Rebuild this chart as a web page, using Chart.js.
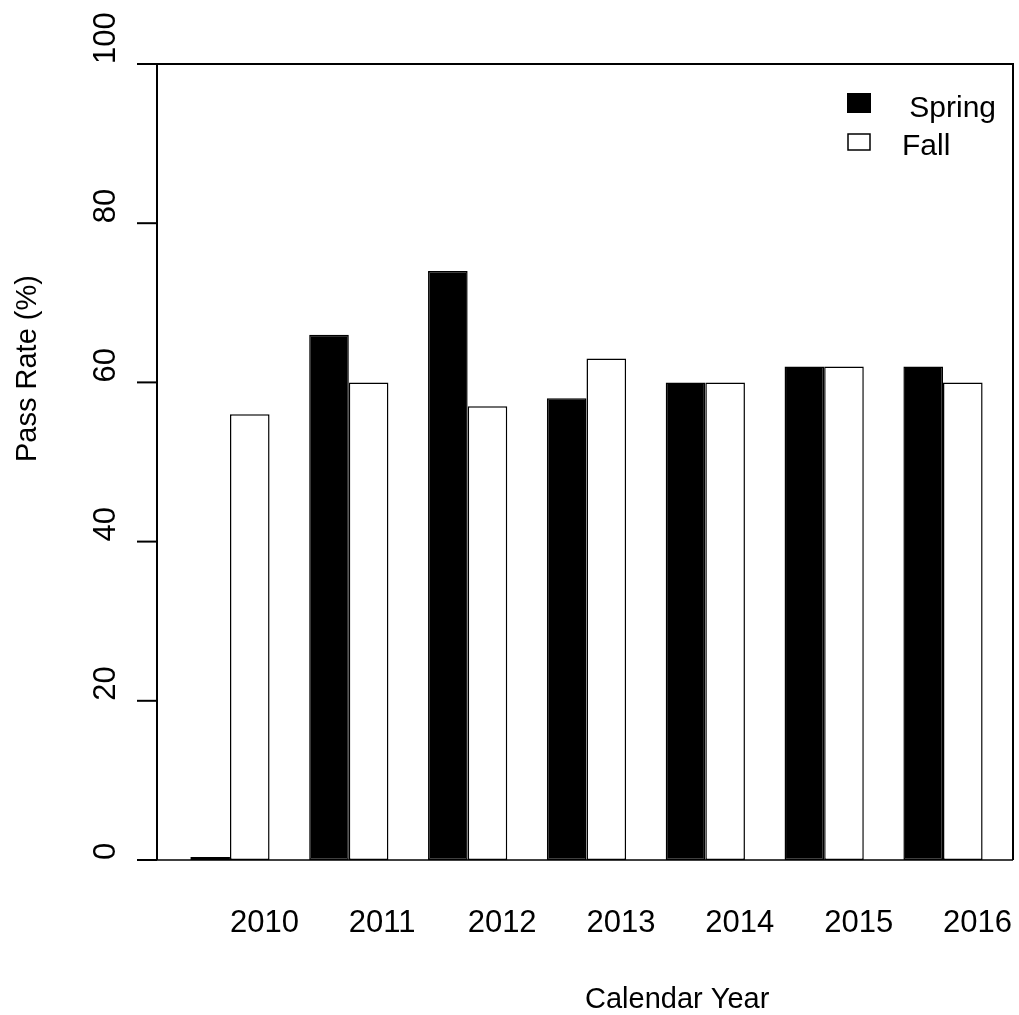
<!DOCTYPE html>
<html>
<head>
<meta charset="utf-8">
<title>Pass Rate by Calendar Year</title>
<script src="https://cdn.jsdelivr.net/npm/chart.js@4"></script>
<style>
  body { margin: 0; background: #fff; }
  #wrap { width: 1019px; height: 1015px; }
</style>
</head>
<body>
<div id="wrap"><canvas id="passChart"></canvas></div>
<script>
// pass rates per calendar year, spring and fall sittings
const years = [2010, 2011, 2012, 2013, 2014, 2015, 2016];
const springRates = [0, 66, 74, 58, 60, 62, 62];
const fallRates = [56, 60, 57, 63, 60, 62, 60];
const yTicks = [0, 20, 40, 60, 80, 100];
const seriesNames = [" Spring", "Fall"];

const FONT = "'Liberation Sans', Arial, sans-serif";

function line(ctx, x1, y1, x2, y2) {
  ctx.beginPath();
  ctx.moveTo(x1, y1);
  ctx.lineTo(x2, y2);
  ctx.stroke();
}

function rotatedText(ctx, text, x, y) {
  ctx.save();
  ctx.translate(x, y);
  ctx.rotate(-Math.PI / 2);
  ctx.fillText(text, 0, 0);
  ctx.restore();
}

// box, ticks, labels and legend drawn on top of the bars
const frame = {
  id: "frame",
  afterDatasetsDraw(chart) {
    const ctx = chart.ctx;
    const { left, right, top, bottom } = chart.chartArea;
    const xs = chart.scales.x;
    const ys = chart.scales.y;
    ctx.save();
    ctx.strokeStyle = "#000";
    ctx.fillStyle = "#000";

    ctx.lineWidth = 2;
    ctx.beginPath();
    ctx.moveTo(left, bottom);
    ctx.lineTo(left, top);
    ctx.lineTo(right, top);
    ctx.lineTo(right, bottom);
    ctx.stroke();
    ctx.lineWidth = 1.5;
    line(ctx, left - 20, bottom, right, bottom);

    ctx.lineWidth = 2;
    yTicks.forEach((v) => {
      const y = ys.getPixelForValue(v);
      line(ctx, left - 20, y, left, y);
    });

    ctx.font = "31px " + FONT;
    ctx.textAlign = "left";
    ctx.textBaseline = "alphabetic";
    yTicks.forEach((v) => {
      rotatedText(ctx, String(v), 115, ys.getPixelForValue(v));
    });
    years.forEach((yr) => {
      ctx.fillText(String(yr), xs.getPixelForValue(yr), 932);
    });

    ctx.font = "29px " + FONT;
    ctx.fillText("Calendar Year", (left + right) / 2, 1008);
    rotatedText(ctx, "Pass Rate (%)", 36, (top + bottom) / 2);

    // legend
    const ds = chart.data.datasets;
    ctx.fillStyle = ds[0].backgroundColor;
    ctx.fillRect(847, 93, 24, 20);
    ctx.fillStyle = ds[1].backgroundColor;
    ctx.fillRect(848, 134, 22, 16);
    ctx.lineWidth = 1.5;
    ctx.strokeRect(848, 134, 22, 16);
    ctx.fillStyle = "#000";
    ctx.font = "30px " + FONT;
    ctx.fillText(ds[0].label, 901, 117);
    ctx.fillText(ds[1].label, 902, 155);
    ctx.restore();
  }
};

new Chart(document.getElementById("passChart"), {
  type: "bar",
  data: {
    datasets: [
      {
        label: seriesNames[0],
        data: years.map((yr, i) => ({ x: yr, y: springRates[i] })),
        backgroundColor: "#000",
        borderColor: "#000",
        borderWidth: 1.5,
        borderSkipped: false,
        minBarLength: 3
      },
      {
        label: seriesNames[1],
        data: years.map((yr, i) => ({ x: yr, y: fallRates[i] })),
        backgroundColor: "#fff",
        borderColor: "#000",
        borderWidth: 1.5,
        borderSkipped: false
      }
    ]
  },
  options: {
    responsive: true,
    maintainAspectRatio: false,
    animation: false,
    layout: { padding: { left: 157, right: 6, top: 64, bottom: 155 } },
    datasets: {
      bar: { categoryPercentage: 2 / 3, barPercentage: 1 }
    },
    scales: {
      x: {
        type: "linear",
        min: 2009.386,
        max: 2016.589,
        offset: false,
        display: false,
        // one tick per year so the bar width follows the year spacing
        afterBuildTicks: (scale) => {
          scale.ticks = years.map((v) => ({ value: v }));
        }
      },
      y: { min: 0, max: 100, display: false }
    },
    plugins: {
      legend: { display: false },
      tooltip: { enabled: false }
    }
  },
  plugins: [frame]
});
</script>
</body>
</html>
